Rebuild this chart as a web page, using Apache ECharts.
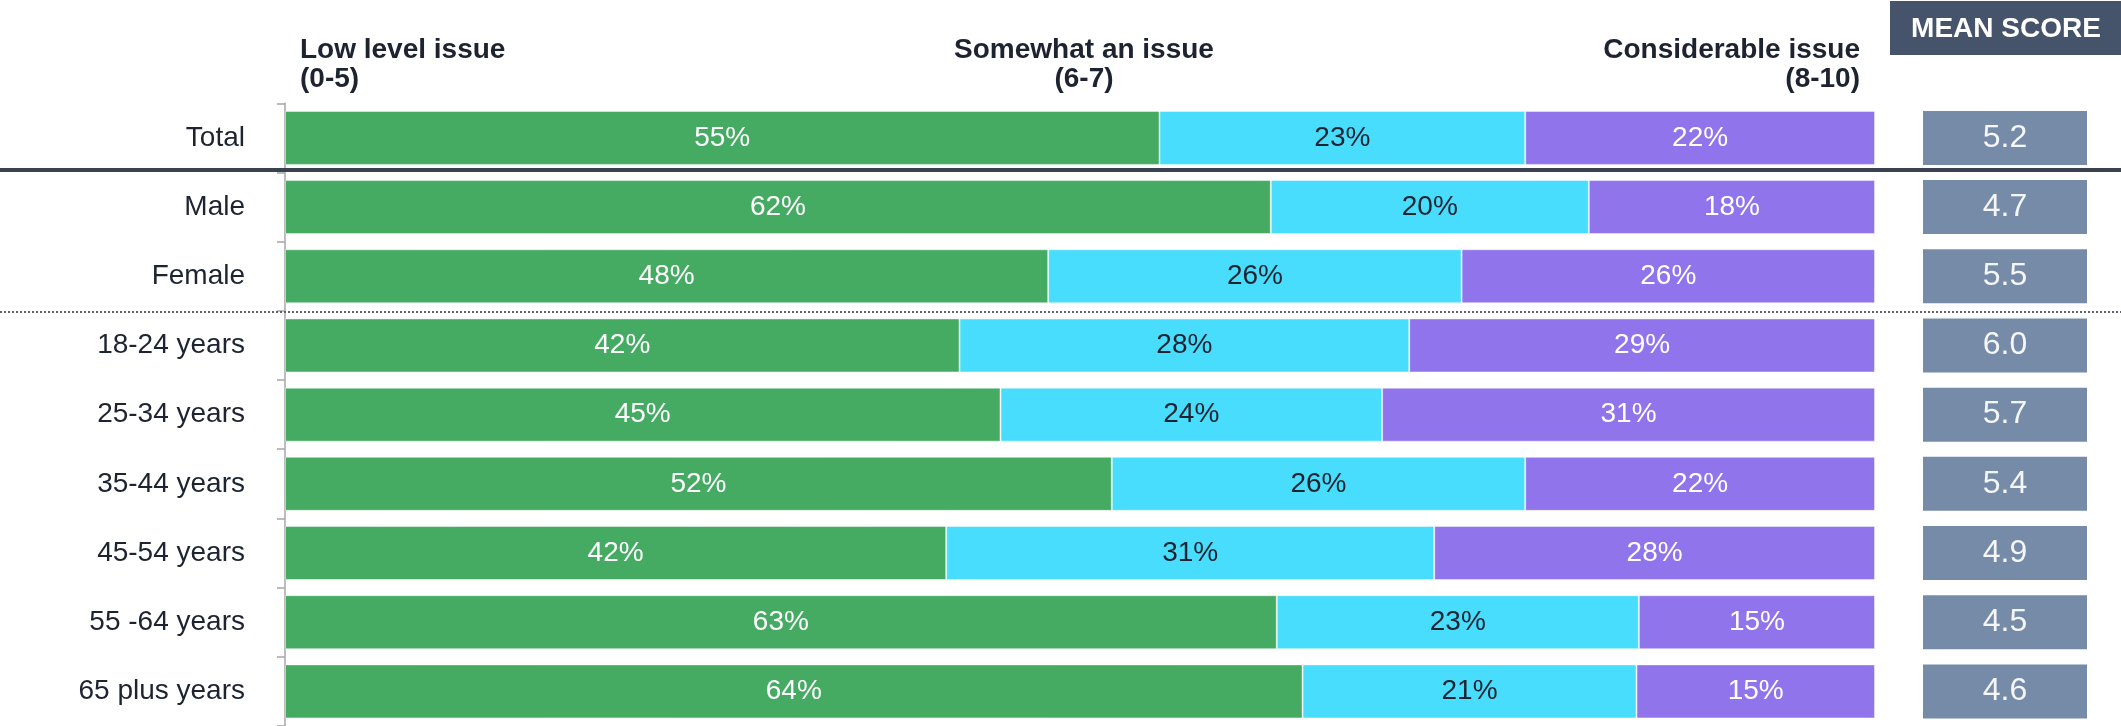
<!DOCTYPE html>
<html>
<head>
<meta charset="utf-8">
<script src="https://cdn.jsdelivr.net/npm/echarts@6/dist/echarts.min.js"></script>
<style>
  html, body { margin: 0; padding: 0; background: #fff; }
  #chart { width: 2121px; height: 726px; }
</style>
</head>
<body>
<div id="chart"></div>
<script>
// 分类与数据
const groups = ['Total', 'Male', 'Female', '18-24 years', '25-34 years', '35-44 years', '45-54 years', '55 -64 years', '65 plus years']
const lowIssue = [55, 62, 48, 42, 45, 52, 42, 63, 64]
const someIssue = [23, 20, 26, 28, 24, 26, 31, 23, 21]
const bigIssue = [22, 18, 26, 29, 31, 22, 28, 15, 15]
const meanScore = [5.2, 4.7, 5.5, 6.0, 5.7, 5.4, 4.9, 4.5, 4.6]
const seriesNames = ['Low level issue (0-5)', 'Somewhat an issue (6-7)', 'Considerable issue (8-10)']

const FONT = "'Liberation Sans', Arial, sans-serif"
const GRID_TOP = 103.3
const GRID_H = 625

// 每行按合计归一到100%
const rowSum = groups.map((g, i) => lowIssue[i] + someIssue[i] + bigIssue[i])
const toShare = arr => arr.map((v, i) => ({ value: v / rowSum[i] * 100, raw: v }))

const makeSeries = (name, arr, color, textColor) => {
  return {
    name: name,
    type: 'bar',
    stack: 'all',
    xAxisIndex: 0,
    yAxisIndex: 0,
    barWidth: 54,
    itemStyle: {
      color: color,
      borderColor: 'rgba(255,255,255,0.45)',
      borderWidth: 1
    },
    label: {
      show: true,
      position: 'inside',
      color: textColor,
      fontFamily: FONT,
      fontSize: 28,
      formatter: p => p.data.raw + '%'
    },
    data: toShare(arr)
  }
}

const chart = echarts.init(document.getElementById('chart'))
const option = {
  animation: false,
  backgroundColor: '#fff',
  grid: [
    { left: 285, width: 1590, top: GRID_TOP, height: GRID_H },
    { left: 1923, width: 164, top: GRID_TOP, height: GRID_H }
  ],
  xAxis: [
    { type: 'value', gridIndex: 0, min: 0, max: 100, show: false },
    { type: 'value', gridIndex: 1, min: 0, max: 1, show: false }
  ],
  yAxis: [
    {
      type: 'category',
      gridIndex: 0,
      inverse: true,
      data: groups,
      axisLine: { show: true, lineStyle: { color: '#a6a6a6', width: 1.5 } },
      axisTick: { show: true, length: 8, lineStyle: { color: '#a6a6a6', width: 1.5 } },
      axisLabel: {
        margin: 40,
        color: '#1d2330',
        fontFamily: FONT,
        fontSize: 28
      }
    },
    { type: 'category', gridIndex: 1, inverse: true, data: groups, show: false }
  ],
  graphic: [
    // 分隔线
    { type: 'line', shape: { x1: 0, y1: 170, x2: 2121, y2: 170 }, style: { stroke: '#3a4250', lineWidth: 4 }, z: 10 },
    { type: 'line', shape: { x1: 0, y1: 312, x2: 2121, y2: 312 }, style: { stroke: '#60656e', lineWidth: 2, lineDash: [2, 2] }, z: 10 },
    // 表头
    {
      type: 'text', x: 300, y: 36,
      style: { text: 'Low level issue\n(0-5)', fill: '#1d2330', font: 'bold 28px ' + FONT, lineHeight: 29, align: 'left' }
    },
    {
      type: 'text', x: 1084, y: 36,
      style: { text: 'Somewhat an issue\n(6-7)', fill: '#1d2330', font: 'bold 28px ' + FONT, lineHeight: 29, align: 'center' }
    },
    {
      type: 'text', x: 1860, y: 36,
      style: { text: 'Considerable issue\n(8-10)', fill: '#1d2330', font: 'bold 28px ' + FONT, lineHeight: 29, align: 'right' }
    },
    {
      type: 'group', x: 1890, y: 1,
      children: [
        { type: 'rect', shape: { x: 0, y: 0, width: 231, height: 54 }, style: { fill: '#45546a' } },
        {
          type: 'text', x: 116, y: 28,
          style: { text: 'MEAN SCORE', fill: '#ffffff', font: 'bold 28px ' + FONT, align: 'center', verticalAlign: 'middle' }
        }
      ]
    }
  ],
  series: [
    makeSeries(seriesNames[0], lowIssue, '#45ab63', '#ffffff'),
    makeSeries(seriesNames[1], someIssue, '#48dcfd', '#1d2330'),
    makeSeries(seriesNames[2], bigIssue, '#8f74eb', '#ffffff'),
    {
      name: 'Mean score',
      type: 'bar',
      xAxisIndex: 1,
      yAxisIndex: 1,
      barWidth: 54,
      itemStyle: { color: '#768ba8' },
      label: {
        show: true,
        position: 'inside',
        color: '#f4f6f9',
        fontFamily: FONT,
        fontSize: 32,
        formatter: p => p.data.score.toFixed(1)
      },
      data: meanScore.map(s => ({ value: 1, score: s }))
    }
  ]
}
chart.setOption(option)
window.addEventListener('resize', chart.resize)
</script>
</body>
</html>
